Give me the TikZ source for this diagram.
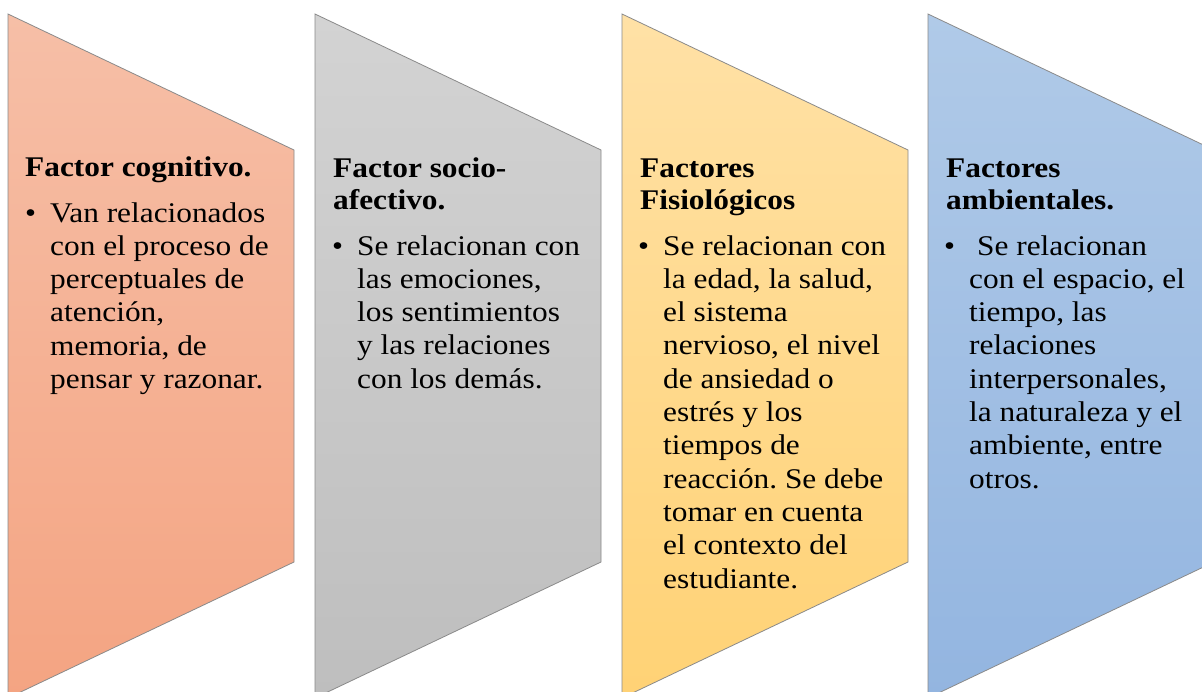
\documentclass[tikz,border=0pt]{standalone}
\usepackage{fontspec}
\setmainfont{Liberation Serif}[FakeStretch=1.1]
\frenchspacing
\definecolor{c1t}{HTML}{F6BFA7}
\definecolor{c1b}{HTML}{F4A482}
\definecolor{c2t}{HTML}{D3D3D3}
\definecolor{c2b}{HTML}{BEBEBE}
\definecolor{c3t}{HTML}{FFE1A6}
\definecolor{c3b}{HTML}{FFD275}
\definecolor{c4t}{HTML}{B0CAE8}
\definecolor{c4b}{HTML}{93B5E0}
\definecolor{bord}{HTML}{8A8A8A}
\newcommand\headblock[1]{\vtop{\hsize=285pt\parindent=0pt\baselineskip=32pt\lineskip=0pt\raggedright\frenchspacing\bfseries\noindent #1}}
\newcommand\bodyblock[1]{\vtop{\hsize=260pt\parindent=0pt\baselineskip=33.3pt\lineskip=0pt\raggedright\frenchspacing\noindent\llap{\textbullet\hspace{14pt}}#1}}
\tikzset{
  panel/.style={draw=bord, line width=0.8pt},
  txt/.style={anchor=base west, inner sep=0pt, font=\fontsize{28.5pt}{33.3pt}\selectfont, text=black}
}
\newcommand\panelpath[1]{(#1,14) -- (#1+286,150) -- (#1+286,562) -- (#1,698) -- cycle}
\begin{document}
\begin{tikzpicture}[x=1pt,y=-1pt]
\clip (0,0) rectangle (1202,691);
\fill[white] (0,0) rectangle (1202,691);
\shadedraw[panel, top color=c1t, bottom color=c1b] \panelpath{8};
\shadedraw[panel, top color=c2t, bottom color=c2b] \panelpath{315};
\shadedraw[panel, top color=c3t, bottom color=c3b] \panelpath{622};
\shadedraw[panel, top color=c4t, bottom color=c4b] \panelpath{928};
% panel 1
\node[txt] (h1) at (25,176) {\headblock{Factor cognitivo.}};
\node[txt] (b1) at (50,222) {\bodyblock{Van relacionados\\ con el proceso de\\ perceptuales de\\ atención,\\ memoria, de\\ pensar y razonar.}};
% panel 2
\node[txt] (h2) at (333,177) {\headblock{Factor socio-\\ afectivo.}};
\node[txt] (b2) at (357,255) {\bodyblock{Se relacionan con\\ las emociones,\\ los sentimientos\\ y las relaciones\\ con los demás.}};
% panel 3
\node[txt] (h3) at (640,177) {\headblock{Factores\\ Fisiológicos}};
\node[txt] (b3) at (663,255) {\bodyblock{Se relacionan con\\ la edad, la salud,\\ el sistema\\ nervioso, el nivel\\ de ansiedad o\\ estrés y los\\ tiempos de\\ reacción. Se debe\\ tomar en cuenta\\ el contexto del\\ estudiante.}};
% panel 4
\node[txt] (h4) at (946,177) {\headblock{Factores\\ ambientales.}};
\node[txt] (b4) at (969,255) {\bodyblock{\hspace{8pt}Se relacionan\\ con el espacio, el\\ tiempo, las\\ relaciones\\ interpersonales,\\ la naturaleza y el\\ ambiente, entre\\ otros.}};
\end{tikzpicture}
\end{document}
